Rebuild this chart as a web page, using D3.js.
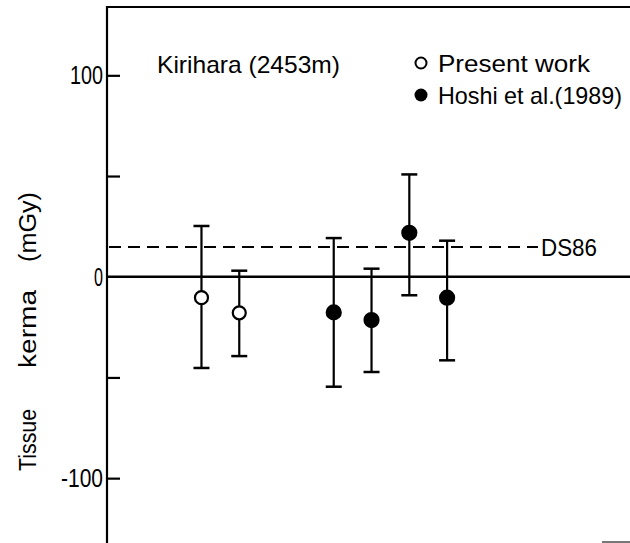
<!DOCTYPE html>
<html><head><meta charset="utf-8">
<script src="https://cdn.jsdelivr.net/npm/d3@7"></script>
<style>body{margin:0;background:#fff}svg{display:block}text{font-family:"Liberation Sans",Arial,sans-serif;fill:#000}</style>
</head><body><svg id="c" width="630" height="543"></svg>
<script>
// data
const presentX = [2.5, 3.5];
const presentVal = [-10.4, -17.9];
const presentHi = [25.2, 3.0];
const presentLo = [-45.3, -39.4];
const hoshiX = [6, 7, 8, 9];
const hoshiVal = [-17.7, -21.5, 21.8, -10.4];
const hoshiHi = [19.2, 4.0, 50.8, 17.9];
const hoshiLo = [-54.6, -47.3, -9.2, -41.5];
const ds86 = 14.8;
const yTicks = [100, 0, -100];
const yMinor = [50, -50];

const svg = d3.select("#c");
const x = d3.scaleLinear().domain([0, 13.84]).range([107, 630]);
const y = d3.scaleLinear().domain([-132.2, 137.4]).range([543, 0]);
const X0 = x(0);

// frame: top line
svg.append("line").attr("x1", X0).attr("x2", 630).attr("y1", 7).attr("y2", 7)
  .attr("stroke", "#000").attr("stroke-width", 2.2);
// y axis line
svg.append("line").attr("x1", X0).attr("x2", X0).attr("y1", 6).attr("y2", 543)
  .attr("stroke", "#000").attr("stroke-width", 2.2);
// bottom-right faint mark
svg.append("line").attr("x1", 602).attr("x2", 630).attr("y1", 542).attr("y2", 542)
  .attr("stroke", "#777").attr("stroke-width", 2);

// y axis ticks (inward) using d3 axis
const yAxis = d3.axisRight(y).tickValues(yTicks.concat(yMinor)).tickSize(13).tickFormat("");
const ga = svg.append("g").attr("transform", `translate(${X0},0)`).call(yAxis);
ga.select(".domain").remove();
ga.selectAll(".tick line").attr("stroke", "#000").attr("stroke-width", 2.2);
ga.selectAll(".tick").filter(d => d === 0).remove();

// tick labels
const labW = {"100": 33, "0": 9, "-100": 42};
svg.selectAll(".ylab").data(yTicks).enter().append("text")
  .attr("class", "ylab")
  .attr("x", d => X0 - 4 - labW[String(d)])
  .attr("y", d => y(d) + 9)
  .attr("font-size", 25)
  .attr("textLength", d => labW[String(d)])
  .attr("lengthAdjust", "spacingAndGlyphs")
  .text(d => d === -100 ? "-100" : String(d));

// zero line
svg.append("line").attr("x1", X0).attr("x2", 630).attr("y1", y(0)).attr("y2", y(0))
  .attr("stroke", "#000").attr("stroke-width", 2.5);

// DS86 dashed line
svg.append("line").attr("x1", X0 + 2).attr("x2", 538).attr("y1", y(ds86)).attr("y2", y(ds86))
  .attr("stroke", "#000").attr("stroke-width", 2).attr("stroke-dasharray", "12,7");
svg.append("text").attr("x", 541).attr("y", y(ds86) + 9).attr("font-size", 24)
  .attr("textLength", 56).attr("lengthAdjust", "spacingAndGlyphs").text("DS86");

// error bars
function drawSeries(xs, vals, his, los, filled) {
  const g = svg.append("g");
  xs.forEach((xv, i) => {
    const cx = x(xv);
    g.append("line").attr("x1", cx).attr("x2", cx).attr("y1", y(his[i])).attr("y2", y(los[i]))
      .attr("stroke", "#000").attr("stroke-width", 2.2);
    [his[i], los[i]].forEach(v => {
      g.append("line").attr("x1", cx - 8).attr("x2", cx + 8).attr("y1", y(v)).attr("y2", y(v))
        .attr("stroke", "#000").attr("stroke-width", 2.5);
    });
    g.append("circle").attr("cx", cx).attr("cy", y(vals[i])).attr("r", filled ? 7 : 6.5)
      .attr("fill", filled ? "#000" : "#fff").attr("stroke", "#000").attr("stroke-width", 2.2);
  });
}
drawSeries(presentX, presentVal, presentHi, presentLo, false);
drawSeries(hoshiX, hoshiVal, hoshiHi, hoshiLo, true);

// title text
svg.append("text").attr("x", 157).attr("y", 73).attr("font-size", 24)
  .attr("textLength", 183).attr("lengthAdjust", "spacingAndGlyphs").text("Kirihara (2453m)");

// legend
svg.append("circle").attr("cx", 421).attr("cy", 63).attr("r", 5.5)
  .attr("fill", "#fff").attr("stroke", "#000").attr("stroke-width", 2);
svg.append("text").attr("x", 438).attr("y", 72).attr("font-size", 24)
  .attr("textLength", 152).attr("lengthAdjust", "spacingAndGlyphs").text("Present work");
svg.append("circle").attr("cx", 421).attr("cy", 95).attr("r", 6.5).attr("fill", "#000");
svg.append("text").attr("x", 438).attr("y", 104).attr("font-size", 24)
  .attr("textLength", 184).attr("lengthAdjust", "spacingAndGlyphs").text("Hoshi et al.(1989)");

// y-axis title (rotated)
const yt = [["Tissue", 440, 62], ["kerma", 329, 78], ["(mGy)", 227, 70]];
yt.forEach(([t, cy, w]) => {
  svg.append("text").attr("transform", `translate(36,${cy}) rotate(-90)`)
    .attr("text-anchor", "middle").attr("font-size", 23)
    .attr("textLength", w).attr("lengthAdjust", "spacingAndGlyphs").text(t);
});
</script></body></html>
